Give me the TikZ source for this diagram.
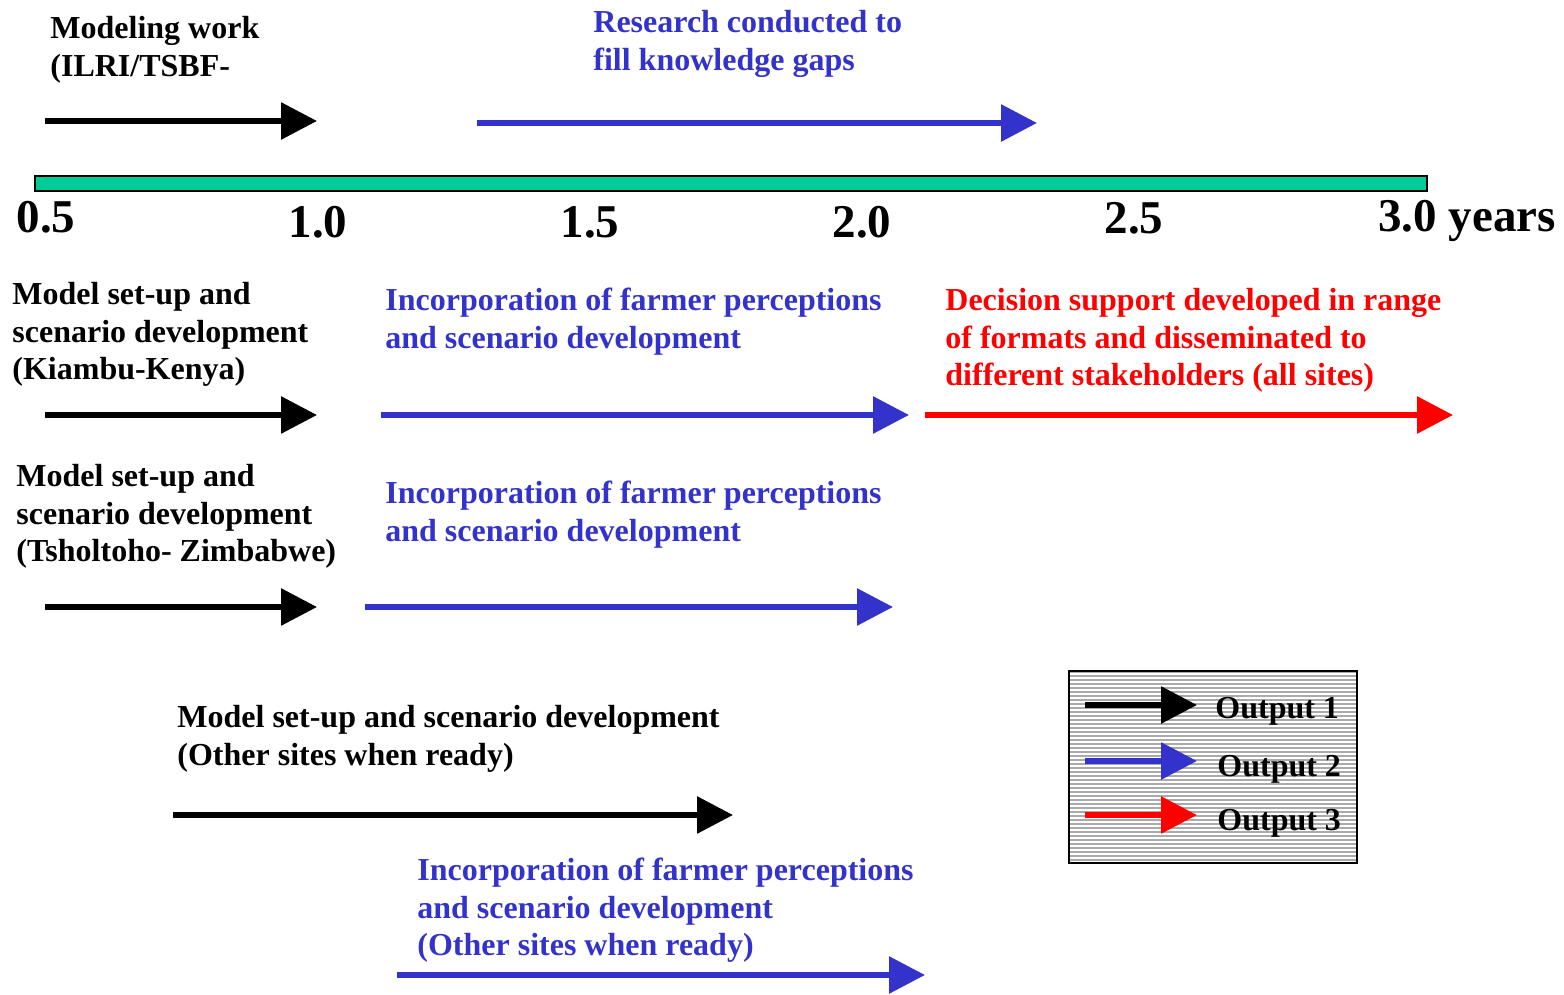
\documentclass[tikz,border=0pt]{standalone}
\usepackage{fontspec}
\setmainfont{Liberation Serif}
\usetikzlibrary{arrows.meta}
\definecolor{bblue}{RGB}{51,51,204}
\definecolor{rred}{RGB}{255,0,0}
\definecolor{barfill}{RGB}{0,204,153}
\definecolor{leggray}{RGB}{170,170,170}
\begin{document}
\begin{tikzpicture}[x=0.5pt,y=-0.5pt,
  txt/.style={anchor=north west, inner sep=0pt, align=left, font=\bfseries\fontsize{16}{18.75}\selectfont},
  tick/.style={anchor=base, inner sep=0pt, font=\bfseries\fontsize{23.5}{28}\selectfont},
  legtxt/.style={anchor=base west, inner sep=0pt, font=\bfseries\fontsize{16}{18.75}\selectfont},
  arr/.style={line width=3pt, -{Triangle[length=18pt,width=18pt]}},
]
\useasboundingbox (0,0) rectangle (1564,995);

% timeline bar
\draw[fill=barfill, line width=0.8pt] (35,176) rectangle (1427,191);
\node[tick] (k05) at (46,232) {0.5};
\node[tick] (k10) at (318,237) {1.0};
\node[tick] (k15) at (590,237) {1.5};
\node[tick] (k20) at (862,237) {2.0};
\node[tick] (k25) at (1134,233) {2.5};
\node[tick, anchor=base west] (k30) at (1378,231) {3.0 years};

% texts
\node[txt] (t1) at (50,16) {Modeling work\\(ILRI/TSBF-};
\node[txt, text=bblue] (t2) at (593,10) {Research conducted to\\fill knowledge gaps};
\node[txt] (t3) at (12,282) {Model set-up and\\scenario development\\(Kiambu-Kenya)};
\node[txt, text=bblue] (t4) at (385,288) {Incorporation of farmer perceptions\\and scenario development};
\node[txt, text=rred] (t5) at (945,288) {Decision support developed in range\\of formats and disseminated to\\different stakeholders (all sites)};
\node[txt] (t6) at (16,464) {Model set-up and\\scenario development\\(Tsholtoho- Zimbabwe)};
\node[txt, text=bblue] (t7) at (385,481) {Incorporation of farmer perceptions\\and scenario development};
\node[txt] (t8) at (177,705) {Model set-up and scenario development\\(Other sites when ready)};
\node[txt, text=bblue] (t9) at (417,858) {Incorporation of farmer perceptions\\and scenario development\\(Other sites when ready)};

% arrows
\coordinate (a1s) at (45,121);  \coordinate (a1e) at (317,121);
\coordinate (a2s) at (477,123); \coordinate (a2e) at (1037,123);
\coordinate (a3s) at (45,415);  \coordinate (a3e) at (317,415);
\coordinate (a4s) at (381,415); \coordinate (a4e) at (909,415);
\coordinate (a5s) at (925,415); \coordinate (a5e) at (1453,415);
\coordinate (a6s) at (45,607);  \coordinate (a6e) at (317,607);
\coordinate (a7s) at (365,607); \coordinate (a7e) at (893,607);
\coordinate (a8s) at (173,815); \coordinate (a8e) at (733,815);
\coordinate (a9s) at (397,975); \coordinate (a9e) at (925,975);
\draw[arr, black] (a1s) -- (a1e);
\draw[arr, bblue] (a2s) -- (a2e);
\draw[arr, black] (a3s) -- (a3e);
\draw[arr, bblue] (a4s) -- (a4e);
\draw[arr, rred]  (a5s) -- (a5e);
\draw[arr, black] (a6s) -- (a6e);
\draw[arr, bblue] (a7s) -- (a7e);
\draw[arr, black] (a8s) -- (a8e);
\draw[arr, bblue] (a9s) -- (a9e);

% legend
\fill[leggray] (1069,671) rectangle (1357,863);
\foreach \yy in {674,678,...,862} \draw[white, line width=0.7pt] (1070,\yy) -- (1356,\yy);
\draw[line width=0.8pt] (1069,671) rectangle (1357,863);
\coordinate (l1s) at (1085,705); \coordinate (l1e) at (1197,705);
\coordinate (l2s) at (1085,761); \coordinate (l2e) at (1197,761);
\coordinate (l3s) at (1085,815); \coordinate (l3e) at (1197,815);
\draw[arr, black] (l1s) -- (l1e);
\draw[arr, bblue] (l2s) -- (l2e);
\draw[arr, rred]  (l3s) -- (l3e);
\node[legtxt] (o1) at (1215,718) {Output 1};
\node[legtxt] (o2) at (1217,776) {Output 2};
\node[legtxt] (o3) at (1217,830) {Output 3};
\end{tikzpicture}
\end{document}
